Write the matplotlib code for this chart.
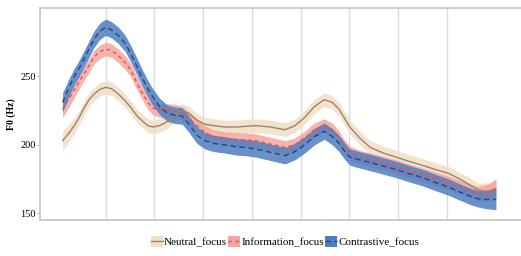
import numpy as np
import matplotlib.pyplot as plt
from matplotlib.patches import Patch
from matplotlib.lines import Line2D

# horizontal position (pixels), grid lines sit every ~49.7 px from 107
x_px = [63, 69, 75, 80, 85, 90, 95, 101, 107, 113,
        120, 127, 133, 139, 145, 150, 155, 162, 170, 178,
        185, 192, 200, 208, 217, 228, 240, 250, 260, 275,
        290, 300, 310, 320, 330, 338, 345, 350, 356, 366,
        377, 390, 403, 416, 430, 443, 457, 468, 480, 487,
        493, 499, 505]
time = [1 + (p - 107) / 49.7 for p in x_px]

neutral = [203, 208, 214, 220, 227, 233, 237, 240.5, 242, 241,
           237, 232, 227, 221, 217, 214, 213, 214, 217, 222,
           225, 223, 218, 215, 214, 213, 213, 213.5, 214, 213,
           211, 214, 220, 228, 233, 231, 226, 220, 213, 205,
           198, 194, 191, 188, 185, 182, 179, 175, 170, 167,
           166, 166.5, 168]
information = [226, 233, 240, 246, 252, 258, 264, 268, 270, 269,
               265, 260, 254, 245, 237, 231, 227, 225, 225, 224.5,
               223, 219, 214, 209, 206, 204.5, 204, 203.5, 203, 200.5,
               198, 200, 205, 211, 214, 211, 205, 199, 194, 191,
               189, 186.5, 184, 181, 178, 175, 172, 169, 166, 164.5,
               164.5, 165.5, 168]
contrastive = [231, 241, 250, 256, 263, 270, 277, 283, 286, 284,
               280, 274, 266, 257, 248, 241, 235, 228, 223, 221.5,
               221, 215, 207, 203, 201, 200, 198.5, 198, 197, 194.5,
               192, 195, 200, 206, 210, 206, 201, 196, 191, 189,
               187, 184.5, 182, 179, 176, 172.5, 169, 165.5, 162, 160.5,
               160, 160, 160]

# half width of the confidence ribbons (Hz)
neutral_ci = [7, 6.5, 6] + [5] * 47 + [6, 6, 6.5]
information_ci = [6.5, 6, 5.5] + [5] * 47 + [6, 6.5, 7]
contrastive_ci = [7, 6.5, 6] + [6] * 47 + [6.5, 7, 7.5]

labels = ['Neutral_focus', 'Information_focus', 'Contrastive_focus']
fills = ['#f1dfc6', '#f5a59f', '#4f7ec0']
lines = ['#9c8466', '#d9544f', '#23467e']
styles = ['-', (0, (2.5, 2.5)), (0, (4, 2.5))]

plt.rcParams['font.family'] = ['Liberation Serif', 'DejaVu Serif']

fig = plt.figure(figsize=(5.21, 2.56), dpi=100)
ax = fig.add_axes([40 / 521, 1 - 220 / 256, 1 - 40 / 521 + 0.01, 212 / 256])

for k in range(1, 9):
    ax.axvline(k, color='#dcdcdc', lw=1.0, zorder=0)

series = [neutral, information, contrastive]
cis = [neutral_ci, information_ci, contrastive_ci]
t = np.array(time)
for vals, ci, fc, lc, ls in zip(series, cis, fills, lines, styles):
    v = np.array(vals)
    c = np.array(ci)
    ax.fill_between(t, v - c, v + c, color=fc, alpha=0.85, lw=0, zorder=2)
    ax.plot(t, v, color=lc, lw=1.0, ls=ls, zorder=3)

ax.set_xlim(1 - 67 / 49.7, 1 + 414 / 49.7 + 0.3)
ax.set_ylim(145, 300)
ax.set_xticks([])
ax.set_yticks([150, 200, 250])
ax.tick_params(axis='y', length=2, width=0.8, color='#bbbbbb', labelsize=7.5, pad=1)
for s in ['left', 'top', 'bottom', 'right']:
    ax.spines[s].set_color('#c4c4c4')
    ax.spines[s].set_linewidth(1.2)
ax.set_ylabel('F0 (Hz)', fontsize=7, fontweight='bold', labelpad=3)

handles = [(Patch(facecolor=fc, edgecolor='none'), Line2D([], [], color=lc, ls=ls, lw=1.0))
           for fc, lc, ls in zip(fills, lines, styles)]
fig.legend(handles, labels, loc='center', bbox_to_anchor=(285 / 521, 1 - 242 / 256),
           ncol=3, frameon=False, fontsize=8, handlelength=1.1, handleheight=1.1,
           handletextpad=0.1, columnspacing=0.1)

fig.savefig('out.png', dpi=100)
